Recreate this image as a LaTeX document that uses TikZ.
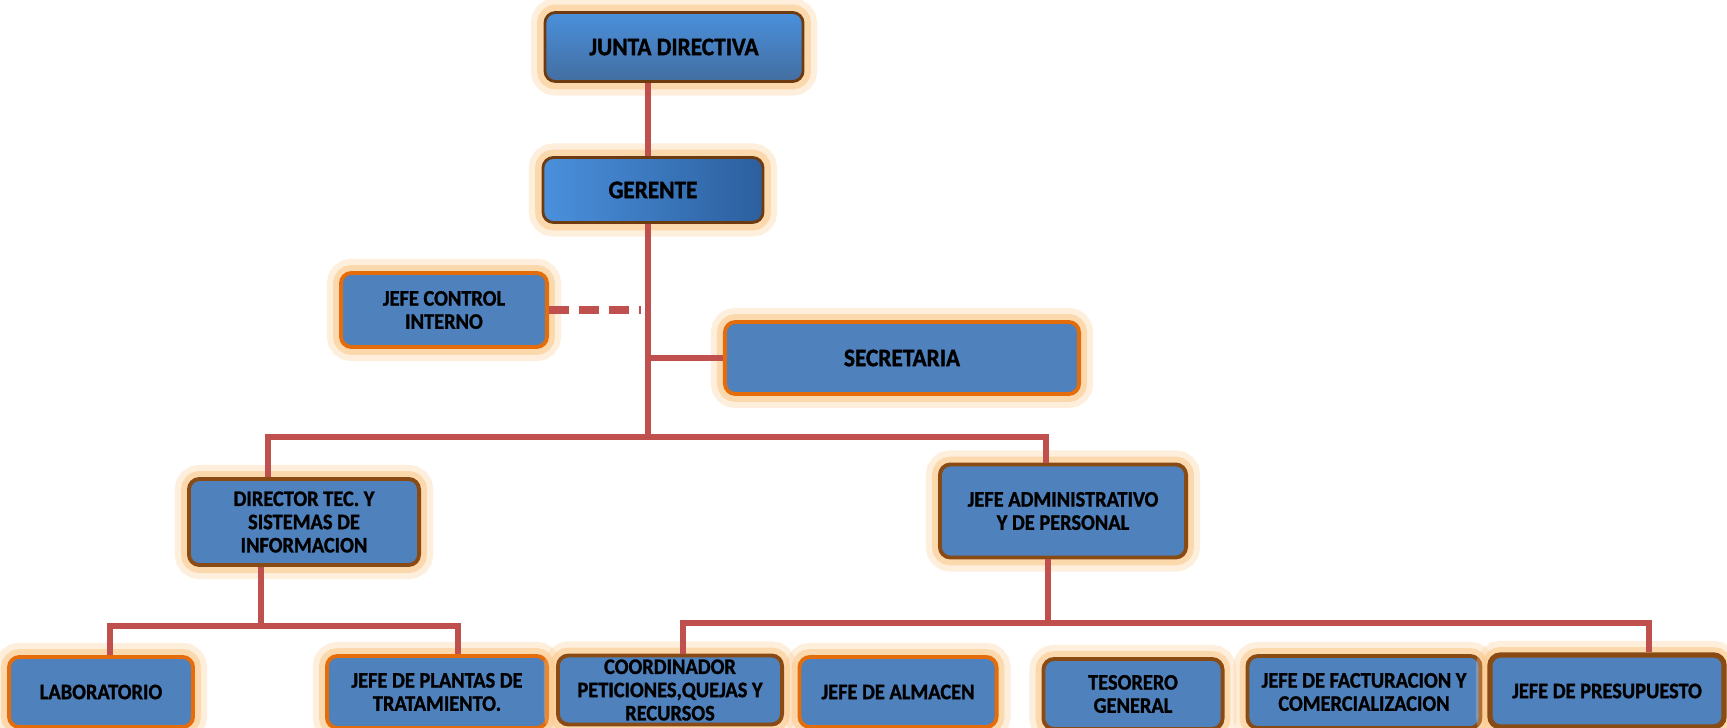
\documentclass[tikz,border=0pt]{standalone}
\usepackage{fontspec}
\usepackage{tikz}
\usetikzlibrary{calc}
\newfontfamily\cargofont{Carlito}[FakeStretch=0.92, BoldFont={Carlito Bold}, BoldFeatures={FakeBold=1.2}]

\definecolor{azul}{HTML}{4F81BD}
\definecolor{azulclaro}{HTML}{4A90DC}
\definecolor{azuloscuro}{HTML}{2C5F9E}
\definecolor{naranja}{HTML}{E46C0A}
\definecolor{cafe}{HTML}{8A4A14}
\definecolor{brillo}{HTML}{FBC98E}
\definecolor{rojo}{HTML}{C0504D}

\tikzset{
  cargo/.style={rectangle, rounded corners=3pt, draw=naranja, line width=1.1pt,
    fill=azul, align=center, inner xsep=2pt, inner ysep=0pt,
    font=\cargofont\bfseries\fontsize{6.3}{6.6}\selectfont,
    preaction={draw=brillo, line width=8pt, opacity=.3},
    preaction={draw=brillo, line width=4.5pt, opacity=.6}},
  cargocafe/.style={cargo, draw=cafe},
  cargotop/.style={cargo, draw=cafe!80!black, line width=.8pt,
    font=\cargofont\bfseries\fontsize{7.2}{8}\selectfont},
  linea/.style={draw=rojo, line width=1.7pt},
}

\begin{document}
\begin{tikzpicture}[x=0.01cm,y=-0.01cm]
        \useasboundingbox (0,0) rectangle (1727,728);

        % direccion
        \node[cargotop, top color=azulclaro, bottom color=azul!85!black,
              minimum width=2.58cm, minimum height=0.69cm] (junta) at (674,47) {JUNTA DIRECTIVA};
        \node[cargotop, left color=azulclaro, right color=azuloscuro,
              minimum width=2.2cm, minimum height=0.65cm] (gerente) at (653,190) {GERENTE};

        % staff
        \node[cargo, minimum width=2.06cm, minimum height=0.74cm] (control) at (444,310) {JEFE CONTROL\\INTERNO};
        \node[cargo, font=\cargofont\bfseries\fontsize{7.2}{8}\selectfont,
              minimum width=3.54cm, minimum height=0.72cm] (secretaria) at (902,358) {SECRETARIA};

        % segundo nivel
        \node[cargocafe, minimum width=2.3cm, minimum height=0.86cm] (director) at (304,522) {DIRECTOR TEC. Y\\SISTEMAS DE\\INFORMACION};
        \node[cargocafe, minimum width=2.46cm, minimum height=0.93cm] (admin) at (1063,511) {JEFE ADMINISTRATIVO\\Y DE PERSONAL};

        % tercer nivel
        \node[cargo, minimum width=1.84cm, minimum height=0.7cm] (lab) at (101,692) {LABORATORIO};
        \node[cargo, minimum width=2.2cm, minimum height=0.72cm] (plantas) at (437,692) {JEFE DE PLANTAS DE\\TRATAMIENTO.};
        \node[cargocafe, minimum width=2.24cm, minimum height=0.69cm] (coord) at (670,690) {COORDINADOR\\PETICIONES,QUEJAS Y\\RECURSOS};
        \node[cargo, minimum width=1.97cm, minimum height=0.7cm] (almacen) at (898,692) {JEFE DE ALMACEN};
        \node[cargocafe, minimum width=1.79cm, minimum height=0.7cm] (tesorero) at (1133,694) {TESORERO\\GENERAL};
        \node[cargocafe, minimum width=2.33cm, minimum height=0.72cm] (fact) at (1364,692) {JEFE DE FACTURACION Y\\COMERCIALIZACION};
        \node[cargocafe, line width=1.5pt, minimum width=2.34cm, minimum height=0.72cm] (presup) at (1607,691) {JEFE DE PRESUPUESTO};

        % puntos de ramificacion
        \coordinate (b1) at (648,437);
        \coordinate (b2) at (261,626);
        \coordinate (b3) at (1048,623);

        % eje central
        \draw[linea] (junta.south -| b1) -- (gerente.north -| b1);
        \draw[linea] (gerente.south -| b1) -- (b1);
        \draw[linea] (b1 |- secretaria.west) -- (secretaria.west);
        \draw[linea, line width=2pt, dash pattern=on 0.2cm off 0.1cm, shorten >=0.07cm]
            (control.east) -- (b1 |- control.east);

        % segundo nivel
        \draw[linea] ($(director.north)+(-36,0)$) |- (b1) -| ($(admin.north)+(-17,0)$);

        % ramal izquierdo
        \draw[linea] ($(director.south)+(-43,0)$) -- (b2);
        \draw[linea] ($(lab.north)+(9,0)$) |- (b2) -| ($(plantas.north)+(21,0)$);

        % ramal derecho
        \draw[linea] ($(admin.south)+(-15,0)$) -- (b3);
        \draw[linea] ($(coord.north)+(13,0)$) |- (b3) -| ($(presup.north)+(42,0)$);
        \draw[linea] ($(almacen.north)+(5,0)$) -- ($(almacen.north)+(5,0)$ |- b3);
        \draw[linea] ($(tesorero.north)+(-10,0)$) -- ($(tesorero.north)+(-10,0)$ |- b3);
        \draw[linea] ($(fact.north)+(2,0)$) -- ($(fact.north)+(2,0)$ |- b3);
    \end{tikzpicture}
\end{document}
